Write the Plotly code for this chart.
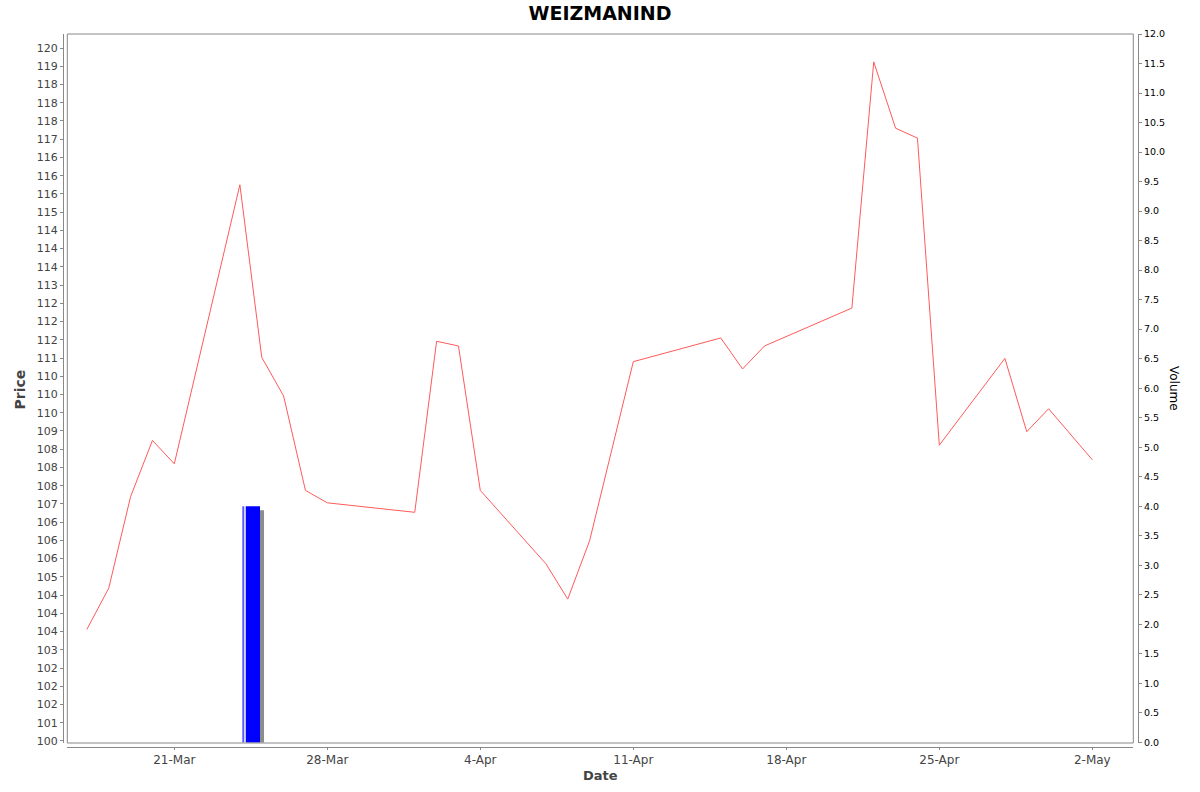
import plotly.graph_objects as go

# ---------------- data ----------------
DATES = [
    "2025-03-17", "2025-03-18", "2025-03-19", "2025-03-20", "2025-03-21",
    "2025-03-24", "2025-03-25", "2025-03-26", "2025-03-27", "2025-03-28",
    "2025-04-01", "2025-04-02", "2025-04-03", "2025-04-04",
    "2025-04-07", "2025-04-08", "2025-04-09", "2025-04-11",
    "2025-04-15", "2025-04-16", "2025-04-17",
    "2025-04-21", "2025-04-22", "2025-04-23", "2025-04-24", "2025-04-25",
    "2025-04-28", "2025-04-29", "2025-04-30", "2025-05-02",
]
PRICES = [
    103.56, 104.69, 107.20, 108.74, 108.10,
    115.75, 111.02, 109.96, 107.37, 107.03,
    106.77, 111.46, 111.33, 107.37,
    105.36, 104.39, 105.99, 110.90,
    111.55, 110.70, 111.33,
    112.37, 119.12, 117.30, 117.03, 108.61,
    110.99, 108.98, 109.61, 108.21,
]
VOLUME_DATES = ["2025-03-24"]
VOLUMES = [4.0]

X_TICK_DATES = ["2025-03-21", "2025-03-28", "2025-04-04", "2025-04-11",
                "2025-04-18", "2025-04-25", "2025-05-02"]
X_TICK_LABELS = ["21-Mar", "28-Mar", "4-Apr", "11-Apr", "18-Apr", "25-Apr", "2-May"]

PRICE_TICK_START = 100.5
PRICE_TICK_STEP = 0.5
PRICE_TICK_LABELS = [
    "100", "101", "102", "102", "102", "103", "104", "104", "104", "105",
    "106", "106", "106", "107", "108", "108", "108", "109", "110", "110",
    "110", "111", "112", "112", "112", "113", "114", "114", "114", "115",
    "116", "116", "116", "117", "118", "118", "118", "119", "120",
]
VOLUME_TICKS = [i * 0.5 for i in range(25)]
VOLUME_TICK_LABELS = [f"{v:.1f}" for v in VOLUME_TICKS]

TITLE = "WEIZMANIND"

# ---------------- styling ----------------
FONT = "DejaVu Sans"
AXIS_GRAY = "#888888"
LABEL_GRAY = "#444444"
DAY_MS = 86400000

W, H = 1200, 792
L = 63
T = 34
R = W - 1138
B = H - 747
pw, ph = W - L - R, H - T - B


def px(x):
    return (x - L) / pw


def py(y):
    return (H - B - y) / ph


price_tickvals = [PRICE_TICK_START + i * PRICE_TICK_STEP for i in range(len(PRICE_TICK_LABELS))]

fig = go.Figure()

# volume bars (JFreeChart style: shadow + gradient highlight)
bar_off = 0.112 * DAY_MS
bar_w = 0.81 * DAY_MS
shadow_shift = 0.183 * DAY_MS
shadow_drop = 0.068

fig.add_trace(go.Bar(
    x=VOLUME_DATES, y=[v - shadow_drop for v in VOLUMES], yaxis="y2",
    offset=bar_off + shadow_shift, width=bar_w,
    marker=dict(color="#8c8c8c", line=dict(width=0)), showlegend=False, hoverinfo="skip"))
fig.add_trace(go.Bar(
    x=VOLUME_DATES, y=VOLUMES, yaxis="y2",
    offset=bar_off, width=bar_w,
    marker=dict(color="#ffffff", line=dict(width=0)), showlegend=False, hoverinfo="skip"))
fig.add_trace(go.Bar(
    x=VOLUME_DATES, y=VOLUMES, yaxis="y2",
    offset=bar_off, width=0.087 * DAY_MS,
    marker=dict(color="#5a5aff", line=dict(width=0)), showlegend=False, hoverinfo="skip"))
fig.add_trace(go.Bar(
    x=VOLUME_DATES, y=VOLUMES, yaxis="y2",
    offset=0.268 * DAY_MS, width=(0.922 - 0.268) * DAY_MS,
    marker=dict(color="#0000ff", line=dict(width=0)), showlegend=False, hoverinfo="skip"))

# price line
fig.add_trace(go.Scatter(
    x=DATES, y=PRICES, mode="lines", yaxis="y",
    line=dict(color="#ff5a5a", width=1), showlegend=False))

fig.update_layout(
    width=W, height=H,
    margin=dict(l=L, r=R, t=T, b=B, pad=0),
    paper_bgcolor="white", plot_bgcolor="white",
    font=dict(family=FONT, color=LABEL_GRAY),
    barmode="overlay",
    title=dict(text=TITLE, x=600 / W, xref="container", xanchor="center",
               y=1 - 13 / H, yref="container", yanchor="middle",
               font=dict(family=FONT, size=19, color="black", weight="bold")),
    xaxis=dict(
        type="date",
        domain=[px(67.3), px(1133.3)],
        anchor="free", position=0,
        range=["2025-03-16 02:30", "2025-05-03 21:00"],
        tickvals=X_TICK_DATES, ticktext=X_TICK_LABELS,
        ticks="outside", ticklen=2, tickcolor=AXIS_GRAY,
        showline=True, linecolor=AXIS_GRAY, linewidth=1,
        showgrid=False, zeroline=False,
        tickfont=dict(family=FONT, size=12, color=LABEL_GRAY),
    ),
    yaxis=dict(
        domain=[py(743), 1],
        anchor="free", position=0,
        range=[100.445, 119.884],
        tickvals=price_tickvals, ticktext=PRICE_TICK_LABELS,
        ticks="outside", ticklen=3, tickcolor=AXIS_GRAY,
        showline=True, linecolor=AXIS_GRAY, linewidth=1,
        showgrid=False, zeroline=False,
        tickfont=dict(family=FONT, size=11, color=LABEL_GRAY),
    ),
    yaxis2=dict(
        overlaying="y", side="right",
        anchor="free", position=1,
        range=[-0.01, 12.0],
        tickvals=VOLUME_TICKS, ticktext=VOLUME_TICK_LABELS,
        ticks="outside", ticklen=3, tickcolor=AXIS_GRAY,
        showline=True, linecolor=AXIS_GRAY, linewidth=1,
        showgrid=False, zeroline=False,
        tickfont=dict(family=FONT, size=9.5, color="black"),
    ),
    shapes=[dict(type="rect", xref="x domain", yref="y domain",
                 x0=0, x1=1, y0=0, y1=1, line=dict(color=AXIS_GRAY, width=1),
                 fillcolor="rgba(0,0,0,0)", layer="above")],
    annotations=[
        dict(text="Price", xref="paper", yref="paper",
             x=px(19), y=py(389.5), xanchor="center", yanchor="middle",
             textangle=-90, showarrow=False,
             font=dict(family=FONT, size=14, color=LABEL_GRAY, weight="bold")),
        dict(text="Date", xref="paper", yref="paper",
             x=px(600), y=py(776), xanchor="center", yanchor="middle",
             showarrow=False,
             font=dict(family=FONT, size=13, color=LABEL_GRAY, weight="bold")),
        dict(text="Volume", xref="paper", yref="paper",
             x=px(1174), y=py(388), xanchor="center", yanchor="middle",
             textangle=90, showarrow=False,
             font=dict(family=FONT, size=12, color="black")),
    ],
)

# remove the page body's default 8px margin so the chart sits at the window origin
fig.write_html("out.html", config={"displayModeBar": False},
               post_script="document.body.style.margin='0px';")
